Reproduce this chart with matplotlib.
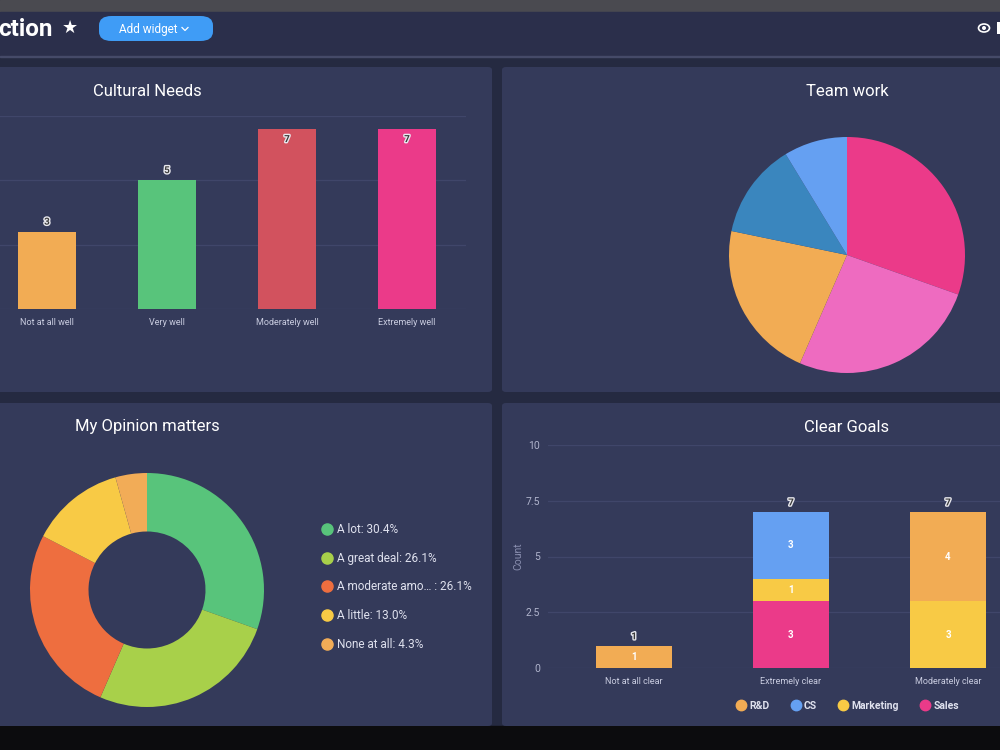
import matplotlib
matplotlib.use('Agg')
from matplotlib import pyplot as plt
from matplotlib.patches import Rectangle, FancyBboxPatch, Ellipse
from matplotlib.lines import Line2D
import matplotlib.patheffects as pe

plt.rcParams['font.family'] = ['Roboto', 'DejaVu Sans']

# cultural needs
cult_cats = ['Not at all well', 'Very well', 'Moderately well', 'Extremely well']
cult_vals = [3, 5, 7, 7]
cult_colors = ['#f2ac54', '#58c47b', '#d2525e', '#eb3a89']

# team work pie (clockwise from top)
team_vals = [7, 6, 5, 3, 2]
team_colors = ['#eb3a89', '#ee6bc0', '#f2ac54', '#3a86be', '#65a0f2']

# my opinion matters donut
op_names = ['A lot', 'A great deal', 'A moderate amo\u2026 ', 'A little', 'None at all']
op_vals = [7, 6, 6, 3, 1]
op_colors = ['#58c47b', '#a8d04a', '#ee6e3f', '#f8ca45', '#f2ac57']

# clear goals stacked
goal_cats = ['Not at all clear', 'Extremely clear', 'Moderately clear']
goal_sales = [0, 3, 0]
goal_marketing = [0, 1, 3]
goal_cs = [0, 3, 0]
goal_rd = [1, 0, 4]
goal_ticks = [0, 2.5, 5, 7.5, 10]

PANEL = '#343a5a'
HEADER = '#2b2f4b'
GAP = '#252a41'
GRID = '#40466a'
TXT = '#c9cce0'

W, H = 1000, 750


def box(x0, y0, x1, y1):
    return [x0 / W, 1 - y1 / H, (x1 - x0) / W, (y1 - y0) / H]


def fx(x):
    return x / W


def fy(y):
    return 1 - y / H


fig = plt.figure(figsize=(10, 7.5), dpi=100)
fig.patch.set_facecolor(GAP)

# page chrome, kept under the axes
fig.patches.append(Rectangle((0, fy(12)), 1, 12 / H, transform=fig.transFigure, color='#4a4a50', zorder=-2))
fig.patches.append(Rectangle((0, fy(56)), 1, 44 / H, transform=fig.transFigure, color=HEADER, zorder=-2))
fig.patches.append(Rectangle((0, fy(57)), 1, 1.5 / H, transform=fig.transFigure, color='#454a68', zorder=-2))
fig.patches.append(Rectangle((0, 0), 1, 24 / H, transform=fig.transFigure, color='#0c0c0e', zorder=-2))

for (x0, y0, x1, y1) in [(-10, 67, 492, 392), (502, 67, 1010, 392), (-10, 403, 492, 726), (502, 403, 1010, 726)]:
    fig.patches.append(FancyBboxPatch((fx(x0), fy(y1)), (x1 - x0) / W, (y1 - y0) / H,
                                      boxstyle='round,pad=0,rounding_size=0.004',
                                      transform=fig.transFigure, fc=PANEL, ec='none', zorder=-2))

fig.text(fx(-2), fy(29), 'ction', color='white', fontsize=17.5, fontweight='bold', va='center', ha='left')
fig.text(fx(70), fy(28), '\u2605', color='white', fontsize=13, va='center', ha='center', family='DejaVu Sans')
fig.patches.append(FancyBboxPatch((fx(99), fy(41)), 114 / W, 25 / H,
                                  boxstyle='round,pad=0,rounding_size=0.0125',
                                  transform=fig.transFigure, fc='#3f9cf6', ec='none', zorder=-1))
fig.text(fx(148), fy(29), 'Add widget', color='white', fontsize=8.5, va='center', ha='center')
fig.lines.append(Line2D([fx(182), fx(185), fx(188)], [fy(27.5), fy(30.5), fy(27.5)],
                        transform=fig.transFigure, color='white', lw=0.9))
fig.patches.append(Ellipse((fx(984), fy(28)), 11 / W, 8 / H, transform=fig.transFigure,
                           fc='none', ec='white', lw=1.2))
fig.patches.append(Ellipse((fx(984), fy(28)), 4 / W, 4 / H, transform=fig.transFigure, fc='white', ec='none'))
fig.patches.append(Rectangle((fx(997), fy(34)), 3 / W, 12 / H, transform=fig.transFigure, fc='white', ec='none'))

outline = [pe.withStroke(linewidth=2, foreground='#e8e8ee')]

# Cultural Needs
fig.text(fx(147), fy(91), 'Cultural Needs', color='white', fontsize=12, ha='center', va='center')
ax = fig.add_axes(box(0, 116, 466, 309))
ax.set_facecolor('none')
xs = list(range(len(cult_cats)))
ax.bar(xs, cult_vals, width=0.48, color=cult_colors, zorder=3)
ax.set_xlim(-47 / 120, (466 - 47) / 120)
ax.set_ylim(0, 7.5)
ax.set_yticks([0, 2.5, 5, 7.5])
ax.yaxis.grid(True, color=GRID, lw=0.9)
ax.set_axisbelow(True)
ax.tick_params(left=False, bottom=False, labelleft=False, colors=TXT, labelsize=6.5, pad=3)
ax.set_xticks(xs)
ax.set_xticklabels(cult_cats)
for s in ax.spines.values():
    s.set_visible(False)
for x, v in zip(xs, cult_vals):
    if v + 0.6 < 7.5:
        ax.text(x, v + 0.2, str(v), ha='center', va='bottom', fontsize=7, color='#3a3a3a',
                fontweight='bold', path_effects=outline, zorder=5)
    else:
        ax.text(x, v - 0.2, str(v), ha='center', va='top', fontsize=7, color='#3a3a3a',
                fontweight='bold', path_effects=outline, zorder=5)

# Team work
fig.text(fx(847), fy(91), 'Team work', color='white', fontsize=12, ha='center', va='center')
ax = fig.add_axes(box(729, 137, 965, 373))
ax.set_facecolor('none')
ax.pie(team_vals, colors=team_colors, startangle=90, counterclock=False,
       wedgeprops=dict(linewidth=0))
ax.set_xlim(-1, 1)
ax.set_ylim(-1, 1)

# My Opinion matters
fig.text(fx(147), fy(427), 'My Opinion matters', color='white', fontsize=12, ha='center', va='center')
ax = fig.add_axes(box(30, 473, 264, 707))
ax.set_facecolor('none')
total = sum(op_vals)
ax.pie(op_vals, colors=op_colors, startangle=90, counterclock=False,
       wedgeprops=dict(width=0.5, linewidth=0))
ax.set_xlim(-1, 1)
ax.set_ylim(-1, 1)
labels = ['%s: %.1f%%' % (n, v * 100.0 / total) for n, v in zip(op_names, op_vals)]
handles = [Line2D([], [], marker='o', ls='none', markersize=8, color=c) for c in op_colors]
fig.legend(handles, labels, loc='center left', bbox_to_anchor=(fx(309), fy(587)), frameon=False,
           labelcolor='#dfe1ee', fontsize=8.5, labelspacing=1.32, handletextpad=0.3, handlelength=1.2)

# Clear Goals
fig.text(fx(847), fy(427), 'Clear Goals', color='white', fontsize=12, ha='center', va='center')
ax = fig.add_axes(box(548, 445, 1000, 668))
ax.set_facecolor('none')
gx = list(range(len(goal_cats)))
series = [('Sales', goal_sales, '#eb3a89'), ('Marketing', goal_marketing, '#f8ca45'),
          ('CS', goal_cs, '#65a0f2'), ('R&D', goal_rd, '#f2ac54')]
bottom = [0] * len(gx)
for name, vals, c in series:
    ax.bar(gx, vals, bottom=bottom, width=0.484, color=c, label=name, zorder=3)
    for x, v, b in zip(gx, vals, bottom):
        if v > 0:
            ax.text(x, b + v / 2.0, str(v), ha='center', va='center', color='white',
                    fontsize=7, fontweight='bold', zorder=5)
    bottom = [b + v for b, v in zip(bottom, vals)]
for x, t in zip(gx, bottom):
    ax.text(x, t + 0.2, str(t), ha='center', va='bottom', fontsize=7, color='#3a3a3a',
            fontweight='bold', path_effects=outline, zorder=5)
ax.set_xlim(-86 / 157, (1000 - 634) / 157)
ax.set_ylim(0, 10)
ax.set_yticks(goal_ticks)
ax.set_yticklabels(['%g' % t for t in goal_ticks])
ax.set_xticks(gx)
ax.set_xticklabels(goal_cats)
ax.yaxis.grid(True, color=GRID, lw=0.9)
ax.set_axisbelow(True)
ax.tick_params(left=False, bottom=False, colors=TXT, labelsize=6.5, pad=3)
ax.tick_params(axis='y', pad=2, labelsize=7.5, colors='#b0b4cc')
ax.set_ylabel('Count', color='#8a8fb0', fontsize=7.5, labelpad=2)
for s in ax.spines.values():
    s.set_visible(False)
order = ['R&D', 'CS', 'Marketing', 'Sales']
cmap = {name: c for name, _, c in series}
lh = [Line2D([], [], marker='o', ls='none', markersize=7.5, color=cmap[n]) for n in order]
fig.legend(lh, order, loc='center', bbox_to_anchor=(fx(847), fy(706)), ncol=4, frameon=False,
           labelcolor='#dfe1ee', handletextpad=0.2, columnspacing=1.9, handlelength=1.2,
           prop={'weight': 'bold', 'size': 7.5})

fig.savefig('out.png', dpi=100, facecolor=fig.get_facecolor())
